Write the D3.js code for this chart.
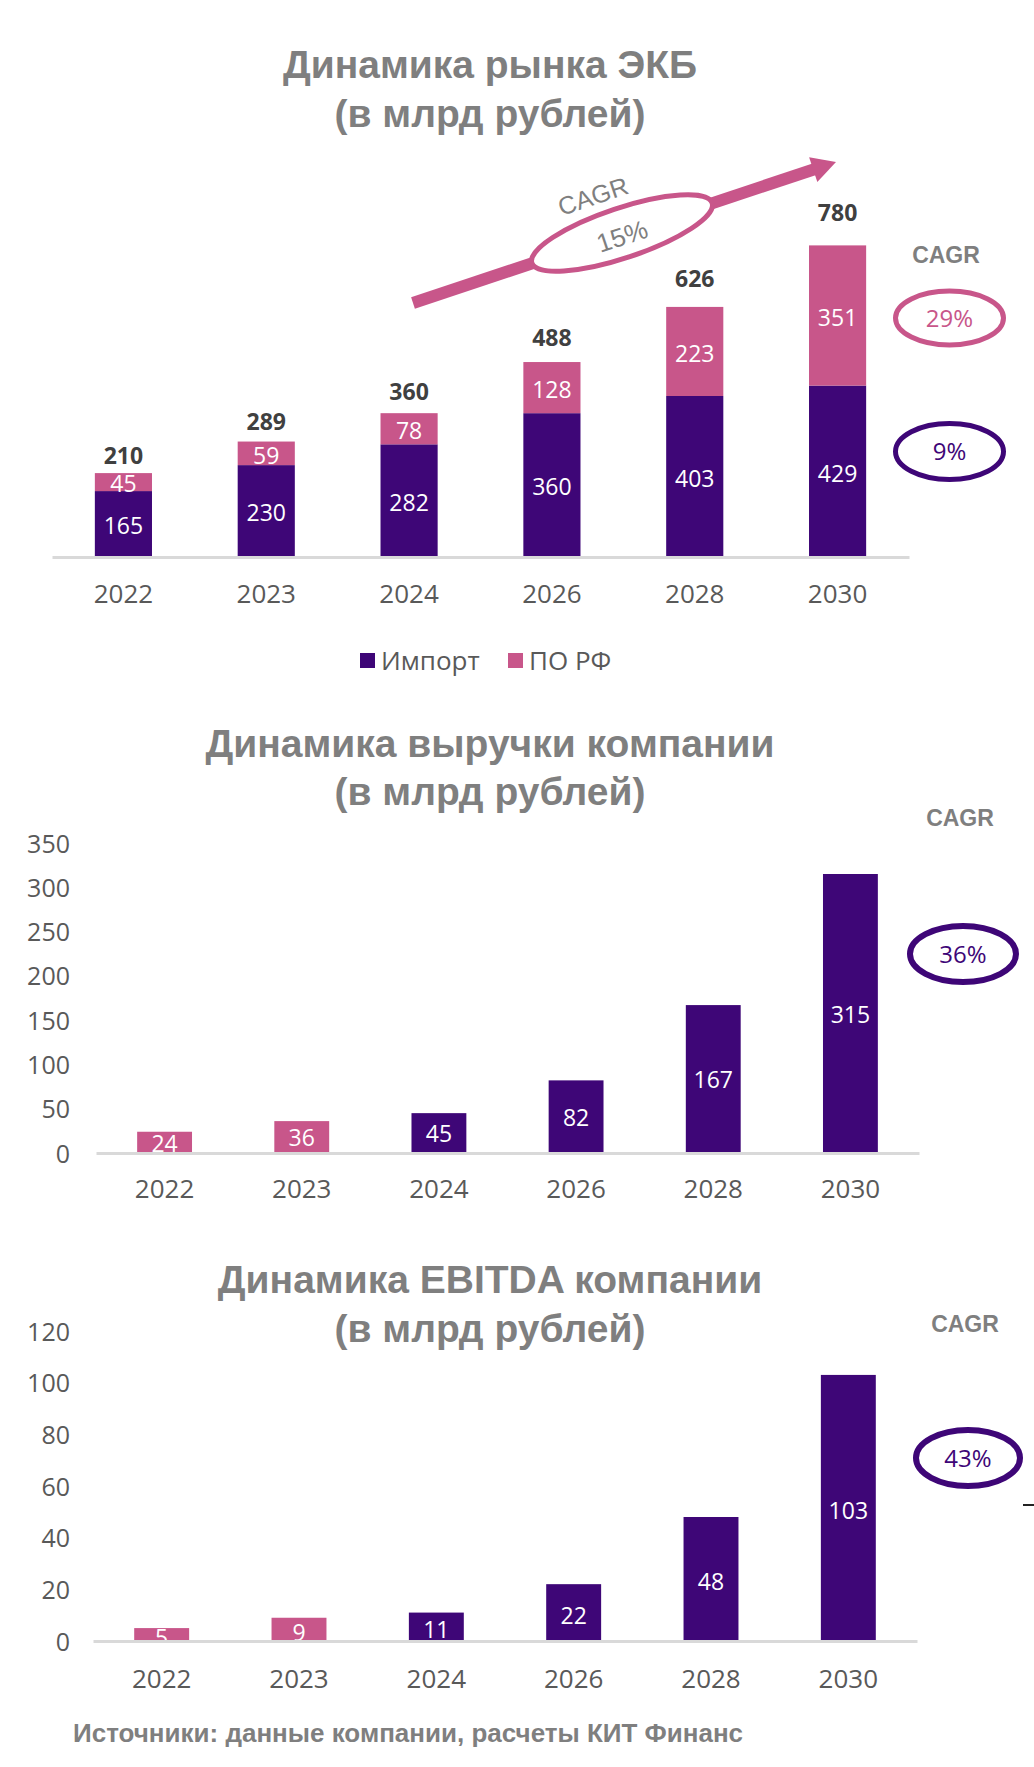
<!DOCTYPE html>
<html>
<head>
<meta charset="utf-8">
<script src="https://cdn.jsdelivr.net/npm/d3@7"></script>
<style>
  html, body { margin: 0; padding: 0; background: #ffffff; }
  svg { display: block; }
</style>
</head>
<body>
<svg id="chart" width="1034" height="1767"></svg>
<script>
// ---------- DATA ----------
const years = ["2022", "2023", "2024", "2026", "2028", "2030"];
// Chart 1: market of electronic components (bn RUB)
const importValues = [165, 230, 282, 360, 403, 429];
const softRfValues = [45, 59, 78, 128, 223, 351];
const marketTotals = [210, 289, 360, 488, 626, 780];
const seriesNames = ["Импорт", "ПО РФ"];
// Chart 2: company revenue
const revenueValues = [24, 36, 45, 82, 167, 315];
const revenueTicks = [0, 50, 100, 150, 200, 250, 300, 350];
// Chart 3: company EBITDA
const ebitdaValues = [5, 9, 11, 22, 48, 103];
const ebitdaTicks = [0, 20, 40, 60, 80, 100, 120];
// Bar colour groups (pink for actual years, purple for forecast)
const barGroups = ["pink", "pink", "purple", "purple", "purple", "purple"];
// Titles and annotations
const titles = [
  ["Динамика рынка ЭКБ", "(в млрд рублей)"],
  ["Динамика выручки компании", "(в млрд рублей)"],
  ["Динамика EBITDA компании", "(в млрд рублей)"]
];
const cagrMarket = "15%";
const cagrSoft = "29%";
const cagrImport = "9%";
const cagrRevenue = "36%";
const cagrEbitda = "43%";
const footer = "Источники: данные компании, расчеты КИТ Финанс";

// ---------- STYLE ----------
const PURPLE = "#3e0677";
const PINK = "#c8568a";
const GRAY_TITLE = "#7f7f7f";
const GRAY_TEXT = "#595959";
const AXIS_GRAY = "#d9d9d9";
const NUM_FONT = "'Open Sans', 'Noto Sans', sans-serif";
const TITLE_FONT = "'Liberation Sans', Arial, sans-serif";
const colorOf = g => g === "pink" ? PINK : PURPLE;

const svg = d3.select("#chart");

function drawTitle(lines, cx, y1, y2) {
  const t = svg.append("g")
    .attr("font-family", TITLE_FONT)
    .attr("font-weight", "bold")
    .attr("font-size", 39)
    .attr("fill", GRAY_TITLE)
    .attr("text-anchor", "middle");
  t.append("text").attr("x", cx).attr("y", y1).text(lines[0]);
  t.append("text").attr("x", cx).attr("y", y2).text(lines[1]);
}

function cagrBadge(cx, cy, rx, ry, sw, color, label) {
  svg.append("ellipse")
    .attr("cx", cx).attr("cy", cy).attr("rx", rx).attr("ry", ry)
    .attr("fill", "#fff").attr("stroke", color).attr("stroke-width", sw);
  svg.append("text")
    .attr("x", cx).attr("y", cy).attr("dy", "0.36em")
    .attr("text-anchor", "middle")
    .attr("font-family", NUM_FONT).attr("font-size", 24)
    .attr("fill", color).text(label);
}

function cagrHeader(x, y) {
  svg.append("text")
    .attr("x", x).attr("y", y).attr("dy", "0.36em")
    .attr("text-anchor", "middle")
    .attr("font-family", TITLE_FONT).attr("font-weight", "bold")
    .attr("font-size", 23).attr("fill", GRAY_TITLE).text("CAGR");
}

function styleXAxis(g, baselineOffset) {
  g.select(".domain").attr("stroke", AXIS_GRAY).attr("stroke-width", 3);
  g.selectAll(".tick line").remove();
  g.selectAll(".tick text")
    .attr("y", baselineOffset).attr("dy", 0)
    .attr("font-family", NUM_FONT).attr("font-size", 26)
    .attr("fill", GRAY_TEXT);
}

// ================= CHART 1 =================
drawTitle(titles[0], 490, 78, 127);

const x1 = d3.scaleBand().domain(years).range([52, 909]).paddingInner(0.6).paddingOuter(0.3);
const y1 = d3.scaleLinear().domain([0, 800]).range([557, 557 - 319.6]);

const stackData = years.map((yr, i) => ({ year: yr, imp: importValues[i], soft: softRfValues[i], total: marketTotals[i] }));
const stack = d3.stack().keys(["imp", "soft"])(stackData);
const stackColors = { imp: PURPLE, soft: PINK };

const g1 = svg.append("g");
stack.forEach(layer => {
  const lg = g1.append("g");
  lg.selectAll("rect").data(layer).join("rect")
    .attr("x", d => x1(d.data.year))
    .attr("width", x1.bandwidth())
    .attr("y", d => y1(d[1]))
    .attr("height", d => y1(d[0]) - y1(d[1]))
    .attr("fill", stackColors[layer.key]);
  lg.selectAll("text").data(layer).join("text")
    .attr("x", d => x1(d.data.year) + x1.bandwidth() / 2)
    .attr("y", d => (y1(d[0]) + y1(d[1])) / 2 + 2)
    .attr("dy", "0.36em")
    .attr("text-anchor", "middle")
    .attr("font-family", NUM_FONT).attr("font-size", 23)
    .attr("fill", "#fff")
    .text(d => d.data[layer.key]);
});
// total labels sit above an invisible "total" anchor slightly above the stack
g1.selectAll("text.total").data(stackData).join("text")
  .attr("class", "total")
  .attr("x", d => x1(d.year) + x1.bandwidth() / 2)
  .attr("y", d => y1(d.total * 1.065) - 12)
  .attr("dy", "0.36em")
  .attr("text-anchor", "middle")
  .attr("font-family", NUM_FONT).attr("font-weight", "bold").attr("font-size", 23)
  .attr("fill", "#404040")
  .text(d => d.total);

svg.append("g").attr("transform", `translate(0,${y1(0)})`)
  .call(d3.axisBottom(x1).tickSize(0).tickSizeOuter(0))
  .call(g => styleXAxis(g, 46));

// Legend
const legend = svg.append("g").attr("font-family", NUM_FONT).attr("font-size", 26).attr("fill", GRAY_TEXT);
const legendX = [360, 508];
seriesNames.forEach((name, i) => {
  legend.append("rect").attr("x", legendX[i]).attr("y", 653).attr("width", 15).attr("height", 15)
    .attr("fill", i === 0 ? PURPLE : PINK);
  legend.append("text").attr("x", legendX[i] + 21).attr("y", 670).text(name);
});

// CAGR arrow across chart 1
(function () {
  const sx = 413, sy = 303, tx = 836, ty = 162;
  const len = Math.hypot(tx - sx, ty - sy);
  const ux = (tx - sx) / len, uy = (ty - sy) / len;
  const nx = -uy, ny = ux;
  const headL = 24, headW = 13;
  const bx = tx - headL * ux, by = ty - headL * uy;
  svg.append("line").attr("x1", sx).attr("y1", sy).attr("x2", bx + 2 * ux).attr("y2", by + 2 * uy)
    .attr("stroke", PINK).attr("stroke-width", 12);
  svg.append("path")
    .attr("d", `M${tx},${ty} L${bx + headW * nx},${by + headW * ny} L${bx - headW * nx},${by - headW * ny} Z`)
    .attr("fill", PINK);
  const ang = Math.atan2(ty - sy, tx - sx) * 180 / Math.PI;
  svg.append("ellipse").attr("cx", 0).attr("cy", 0).attr("rx", 95).attr("ry", 25)
    .attr("transform", `translate(622,233) rotate(${ang})`)
    .attr("fill", "#fff").attr("stroke", PINK).attr("stroke-width", 5);
  svg.append("text").attr("transform", `translate(593,196) rotate(${ang})`)
    .attr("dy", "0.36em").attr("text-anchor", "middle")
    .attr("font-family", TITLE_FONT).attr("font-size", 25).attr("fill", GRAY_TITLE).text("CAGR");
  svg.append("text").attr("transform", `translate(622,236) rotate(${ang})`)
    .attr("dy", "0.36em").attr("text-anchor", "middle")
    .attr("font-family", TITLE_FONT).attr("font-size", 26).attr("fill", GRAY_TITLE).text(cagrMarket);
})();

cagrHeader(946, 255);
cagrBadge(949.5, 318, 54, 27, 5, PINK, cagrSoft);
cagrBadge(949.5, 451.5, 54, 28, 5, PURPLE, cagrImport);

// ================= SIMPLE BAR CHART =================
function simpleChart(values, ticks, opts) {
  const x = d3.scaleBand().domain(years).range(opts.xr).paddingInner(0.6).paddingOuter(0.3);
  const y = d3.scaleLinear().domain([0, ticks[ticks.length - 1]]).range(opts.yr);
  const data = years.map((yr, i) => ({ year: yr, v: values[i], grp: barGroups[i] }));
  const g = svg.append("g");
  g.selectAll("rect").data(data).join("rect")
    .attr("x", d => x(d.year)).attr("width", x.bandwidth())
    .attr("y", d => y(d.v)).attr("height", d => y(0) - y(d.v))
    .attr("fill", d => colorOf(d.grp));
  // x axis
  svg.append("g").attr("transform", `translate(0,${y(0)})`)
    .call(d3.axisBottom(x).tickSize(0).tickSizeOuter(0))
    .call(a => styleXAxis(a, opts.yearOffset));
  // y axis
  svg.append("g").attr("transform", `translate(${opts.yAxisX},0)`)
    .call(d3.axisLeft(y).tickValues(ticks).tickSize(0).tickPadding(0))
    .call(a => {
      a.select(".domain").remove();
      a.selectAll(".tick text")
        .attr("font-family", NUM_FONT).attr("font-size", 25)
        .attr("fill", GRAY_TEXT).attr("dy", "0.36em");
    });
  // value labels
  g.selectAll("text").data(data).join("text")
    .attr("x", d => x(d.year) + x.bandwidth() / 2)
    .attr("y", d => (y(0) + y(d.v)) / 2 + opts.labelShift(d))
    .attr("dy", "0.36em").attr("text-anchor", "middle")
    .attr("font-family", NUM_FONT).attr("font-size", 23)
    .attr("fill", "#fff").text(d => d.v);
}

// ================= CHART 2 =================
drawTitle(titles[1], 490, 757, 805);
simpleChart(revenueValues, revenueTicks, {
  xr: [96, 919], yr: [1153, 843], yAxisX: 70, yearOffset: 45,
  labelShift: d => 1
});
cagrHeader(960, 818);
cagrBadge(963, 954, 53, 28, 6, PURPLE, cagrRevenue);

// ================= CHART 3 =================
drawTitle(titles[2], 490, 1293, 1342);
simpleChart(ebitdaValues, ebitdaTicks, {
  xr: [93, 917], yr: [1641, 1331], yAxisX: 70, yearOffset: 47,
  labelShift: d => 3
});
cagrHeader(965, 1324);
cagrBadge(968, 1458, 52, 28, 6, PURPLE, cagrEbitda);

// small dash at right edge
svg.append("line").attr("x1", 1023).attr("x2", 1034).attr("y1", 1505).attr("y2", 1505)
  .attr("stroke", "#222").attr("stroke-width", 2);

// footer
svg.append("text").attr("x", 73).attr("y", 1742)
  .attr("font-family", TITLE_FONT).attr("font-weight", "bold").attr("font-size", 26)
  .attr("fill", GRAY_TITLE).text(footer);
</script>
</body>
</html>
